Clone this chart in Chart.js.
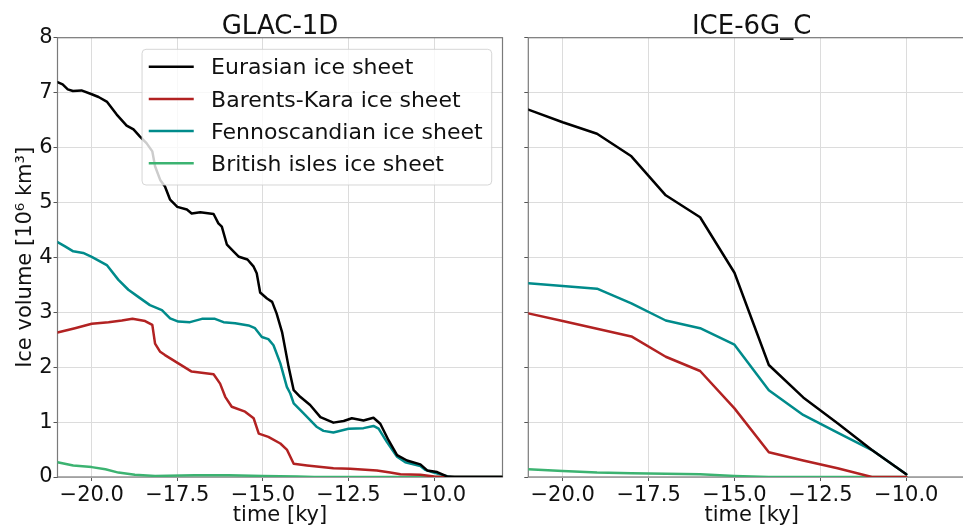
<!DOCTYPE html>
<html><head><meta charset="utf-8">
<script src="https://cdn.jsdelivr.net/npm/chart.js@4"></script>
<style>
html,body{margin:0;padding:0;background:#fff;overflow:hidden;width:963px;height:527px}
#wl{position:absolute;left:0;top:0;width:510px;height:527px}
#wr{position:absolute;left:505px;top:0;width:470px;height:527px}
</style></head><body>
<div id="wl"><canvas id="glac" width="510" height="527"></canvas></div>
<div id="wr"><canvas id="ice6g" width="470" height="527"></canvas></div>
<script>
// ── GLAC-1D (left panel) ─────────────────────────────────────────
const glacEurT=[-21,-20.85,-20.7,-20.55,-20.3,-20.0,-19.8,-19.55,-19.27,-18.98,-18.78,-18.59,-18.4,-18.23,-18.15,-18.0,-17.86,-17.71,-17.5,-17.22,-17.08,-16.83,-16.44,-16.3,-16.2,-16.05,-15.86,-15.7,-15.45,-15.27,-15.18,-15.08,-14.88,-14.73,-14.6,-14.44,-14.25,-14.1,-13.91,-13.62,-13.32,-12.94,-12.64,-12.4,-12.06,-11.77,-11.57,-11.33,-11.08,-10.79,-10.4,-10.2,-9.91,-9.62,-9.4,-8];
const glacEurV=[7.19,7.15,7.06,7.03,7.04,6.97,6.92,6.83,6.60,6.40,6.33,6.20,6.08,5.93,5.66,5.41,5.29,5.05,4.92,4.87,4.80,4.82,4.79,4.62,4.56,4.23,4.11,4.01,3.96,3.83,3.71,3.36,3.25,3.19,2.98,2.64,2.01,1.58,1.46,1.31,1.09,0.99,1.02,1.07,1.03,1.08,0.97,0.67,0.40,0.30,0.23,0.12,0.09,0.01,0,0];
const glacBkT=[-21,-20.49,-20.0,-19.51,-19.12,-18.81,-18.44,-18.23,-18.15,-18.0,-17.86,-17.47,-17.08,-16.44,-16.25,-16.1,-15.91,-15.52,-15.27,-15.12,-14.84,-14.49,-14.3,-14.1,-13.71,-12.94,-12.45,-11.67,-11.28,-10.98,-10.4,-10.0,-9.8,-8];
const glacBkV=[2.63,2.71,2.79,2.82,2.85,2.88,2.84,2.77,2.43,2.28,2.22,2.07,1.92,1.87,1.70,1.46,1.28,1.19,1.07,0.79,0.73,0.61,0.50,0.24,0.21,0.16,0.15,0.12,0.08,0.05,0.04,0.01,0,0];
const glacFenT=[-21,-20.78,-20.54,-20.25,-20.0,-19.56,-19.22,-18.93,-18.64,-18.3,-17.95,-17.71,-17.47,-17.13,-16.78,-16.4,-16.15,-15.81,-15.42,-15.23,-15.03,-14.84,-14.69,-14.49,-14.3,-14.2,-14.1,-13.81,-13.42,-13.23,-12.94,-12.5,-12.06,-11.77,-11.62,-11.38,-11.08,-10.84,-10.4,-10.26,-10.01,-9.72,-9.5,-8];
const glacFenV=[4.28,4.20,4.11,4.08,4.01,3.86,3.59,3.41,3.28,3.13,3.04,2.89,2.83,2.82,2.88,2.88,2.82,2.80,2.76,2.71,2.55,2.51,2.40,2.07,1.64,1.52,1.34,1.16,0.91,0.84,0.81,0.88,0.89,0.93,0.88,0.64,0.37,0.27,0.20,0.13,0.08,0.03,0,0];
const glacBriT=[-21,-20.54,-20.0,-19.6,-19.22,-18.74,-18.15,-17.0,-16.0,-15.0,-14.0,-13.5,-8];
const glacBriV=[0.27,0.21,0.18,0.14,0.08,0.04,0.02,0.03,0.03,0.02,0.01,0,0];

// ── ICE-6G_C (right panel) ───────────────────────────────────────
const iceT=[-21,-20,-19,-18,-17,-16,-15,-14,-13,-12,-11,-10];
const iceEurV=[6.69,6.46,6.25,5.84,5.13,4.73,3.72,2.04,1.45,0.98,0.49,0.05];
const iceBkV=[2.98,2.84,2.70,2.56,2.19,1.93,1.25,0.45,0.30,0.16,0.0,0.0];
const iceFenV=[3.53,3.48,3.43,3.16,2.85,2.71,2.41,1.58,1.13,0.81,0.49,0.05];
const iceBriV=[0.14,0.11,0.08,0.07,0.06,0.05,0.02,0.0,0.0,0.0,0.0,0.0];

const seriesNames=['Eurasian ice sheet','Barents-Kara ice sheet','Fennoscandian ice sheet','British isles ice sheet'];
const seriesColors=['#000000','#b22222','#008b8b','#3cb371'];
const xTicks={min:-21,max:-8,step:2.5};
const yTicks={min:0,max:8,step:1};

const GRID='#dcdcdc', TXT='#111';
Chart.defaults.font.family='"DejaVu Sans", sans-serif';

const pts=(t,v)=>t.map((x,i)=>({x,y:v[i]}));
const ds=(i,t,v)=>({label:seriesNames[i],data:pts(t,v),borderColor:seriesColors[i],backgroundColor:seriesColors[i],borderWidth:2.5,pointRadius:0,tension:0,borderJoinStyle:'round',borderCapStyle:'round',clip:0});

const frame={id:'frame',beforeDatasetsDraw(c){
  const a=c.chartArea,x=c.ctx;x.save();x.strokeStyle='#7a7a7a';x.lineWidth=1.2;
  x.strokeRect(a.left,a.top,a.right-a.left,a.bottom-a.top);x.restore();}};

// legend inside the axes, upper right, semi-transparent like matplotlib
const legendBox={id:'legendBox',afterDatasetsDraw(c){
  const a=c.chartArea,x=c.ctx,d=c.data.datasets;
  x.save();x.font='22px "DejaVu Sans"';
  const tw=Math.max(...d.map(s=>x.measureText(s.label).width));
  const w=69+tw+9,h=135.7,r=a.right-10.8,t=a.top+11.6,l=r-w;
  x.beginPath();x.roundRect(l,t,w,h,4);x.fillStyle='rgba(255,255,255,0.8)';x.fill();
  x.strokeStyle='rgba(204,204,204,0.8)';x.lineWidth=1;x.stroke();
  d.forEach((s,i)=>{const y=t+17.4+i*32.2;
    x.beginPath();x.moveTo(l+6.7,y);x.lineTo(l+51.7,y);x.strokeStyle=s.borderColor;x.lineWidth=2.5;x.stroke();
    x.fillStyle=TXT;x.textBaseline='middle';x.textAlign='left';x.fillText(s.label,l+69,y+2);});
  x.restore();}};

function scales(showY,yWidth){
  return {
    x:{type:'linear',min:xTicks.min,max:xTicks.max,
      ticks:{stepSize:xTicks.step,includeBounds:false,autoSkip:false,maxRotation:0,color:TXT,font:{size:21},padding:2,
        callback:v=>(v<0?'\u2212':'')+Math.abs(v).toFixed(1)},
      grid:{color:GRID,tickLength:4,tickColor:'#555'},border:{display:false},
      title:{display:true,text:'time [ky]',color:TXT,font:{size:21,lineHeight:1},padding:{top:0,bottom:1}},
      afterFit:s=>{s.height=50;}},
    y:{min:yTicks.min,max:yTicks.max,
      ticks:{stepSize:yTicks.step,display:showY,color:TXT,font:{size:21},padding:1,callback:v=>v},
      grid:{color:GRID,tickLength:4,tickColor:'#555'},border:{display:false},
      title:{display:showY,text:'Ice volume [10\u2076 km\u00b3]',color:TXT,font:{size:21,lineHeight:1.2},padding:{top:13,bottom:0}},
      afterFit:s=>{s.width=yWidth;}}
  };
}

function panel(id,title,datasets,showY,yWidth,padRight,extra){
  return new Chart(document.getElementById(id),{
    type:'line',
    data:{datasets},
    options:{
      responsive:false,animation:false,
      layout:{padding:{left:0,right:padRight,top:0,bottom:0}},
      plugins:{
        legend:{display:false},tooltip:{enabled:false},
        title:{display:true,text:title,fullSize:false,color:TXT,font:{size:26,weight:'normal',lineHeight:1},padding:{top:14,bottom:-2.3}}
      },
      scales:scales(showY,yWidth)
    },
    plugins:[frame].concat(extra)
  });
}

panel('glac','GLAC-1D',[
  ds(0,glacEurT,glacEurV),ds(1,glacBkT,glacBkV),ds(2,glacFenT,glacFenV),ds(3,glacBriT,glacBriV)
],true,57.5,7.5,[legendBox]);

panel('ice6g','ICE-6G_C',[
  ds(0,iceT,iceEurV),ds(1,iceT,iceBkV),ds(2,iceT,iceFenV),ds(3,iceT,iceBriV)
],false,23.3,0,[]);
</script>
</body></html>
